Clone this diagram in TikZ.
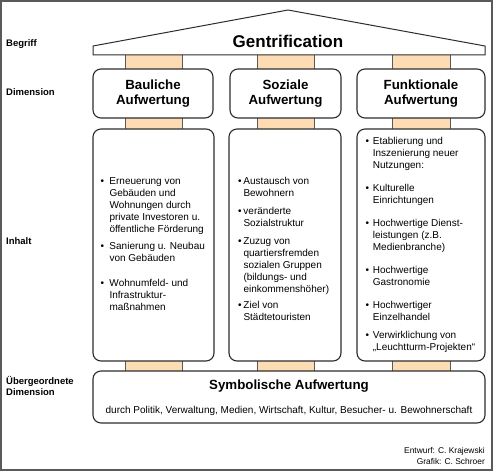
\documentclass[tikz,border=0pt]{standalone}
\usepackage{fontspec}
\setmainfont{Liberation Sans}
\definecolor{pillarfill}{RGB}{253,220,180}
\definecolor{boxline}{RGB}{45,45,45}
\definecolor{frameline}{RGB}{90,90,90}
\newcommand{\bu}[1]{\makebox[#1][l]{\textbullet}}
\newcommand{\lines}[1]{\begin{tabular}[t]{@{}l@{}}#1\end{tabular}}
\begin{document}
\begin{tikzpicture}[x=1pt,y=-1pt,
  box/.style={draw=boxline, line width=1.1pt, fill=white, rounded corners=8pt, inner sep=0pt},
  dimbox/.style={box, align=center, font=\bfseries\fontsize{13.3}{15}\selectfont},
  pillar/.style={draw=frameline, line width=0.9pt, fill=pillarfill, inner sep=0pt},
  bultxt/.style={anchor=base west, inner sep=0pt, font=\fontsize{10}{12}\selectfont},
  lbl/.style={anchor=base west, inner sep=0pt, font=\bfseries\fontsize{9.5}{11}\selectfont},
  credit/.style={anchor=base east, inner sep=0pt, font=\fontsize{8.4}{10.5}\selectfont}]
\useasboundingbox (0,0) rectangle (495,473);
\draw[frameline, line width=1.5pt] (1,1) rectangle (492,470);

% pillars
\foreach \x/\w/\n in {153.5/57/1, 285.5/57/2, 421/58/3}{
  \node[pillar, minimum width=\w pt, minimum height=18pt] (pa\n) at (\x,62) {};
  \node[pillar, minimum width=\w pt, minimum height=15pt] (pb\n) at (\x,123.5) {};
  \node[pillar, minimum width=\w pt, minimum height=14pt] (pc\n) at (\x,366) {};
}

% roof
\draw[boxline, line width=1pt, fill=white] (93,55) -- (93,46) -- (288,10) -- (485,46) -- (485,55) -- cycle;
\node[anchor=base, inner sep=0pt, font=\bfseries\fontsize{17}{20}\selectfont] (gent) at (288,47.7) {Gentrification};

% dimension boxes
\node[dimbox, minimum width=120pt, minimum height=49pt] (d1) at (153,93.5) {Bauliche\\Aufwertung};
\node[dimbox, minimum width=111pt, minimum height=49pt] (d2) at (285.5,93.5) {Soziale\\Aufwertung};
\node[dimbox, minimum width=128pt, minimum height=49pt] (d3) at (421,93.5) {Funktionale\\Aufwertung};

% content boxes
\node[box, minimum width=121pt, minimum height=232pt] (c1) at (153.5,245) {};
\node[box, minimum width=112pt, minimum height=232pt] (c2) at (285,245) {};
\node[box, minimum width=128pt, minimum height=232pt] (c3) at (421,245) {};

% symbolic box
\node[box, minimum width=392pt, minimum height=52pt] (s) at (289,397) {};
\node[anchor=base, inner sep=0pt, font=\bfseries\fontsize{13.3}{15}\selectfont] (stitle) at (289,389.5) {Symbolische Aufwertung};
\node[anchor=base, inner sep=0pt, font=\fontsize{10}{12}\selectfont] (ssub) at (289,413) {durch Politik, Verwaltung, Medien, Wirtschaft, Kultur, Besucher- u. Bewohnerschaft};

% content texts box 1
\node[bultxt] (t1a) at (100.5,184.3) {\bu{8.8pt}\lines{Erneuerung von\\Gebäuden und\\Wohnungen durch\\private Investoren u.\\öffentliche Förderung}};
\node[bultxt] (t1b) at (100.5,249.3) {\bu{8.8pt}\lines{Sanierung u. Neubau\\von Gebäuden}};
\node[bultxt] (t1c) at (100.5,286.3) {\bu{8.8pt}\lines{Wohnumfeld- und\\Infrastruktur-\\maßnahmen}};

% content texts box 2
\node[bultxt] (t2a) at (237.8,184.3) {\bu{5.5pt}\lines{Austausch von\\Bewohnern}};
\node[bultxt] (t2b) at (237.8,214.3) {\bu{5.5pt}\lines{veränderte\\Sozialstruktur}};
\node[bultxt] (t2c) at (237.8,244.3) {\bu{5.5pt}\lines{Zuzug von\\quartiersfremden\\sozialen Gruppen\\(bildungs- und\\einkommenshöher)}};
\node[bultxt] (t2d) at (237.8,308.3) {\bu{5.5pt}\lines{Ziel von\\Städtetouristen}};

% content texts box 3
\node[bultxt] (t3a) at (365.5,145) {\bu{7.2pt}\lines{Etablierung und\\Inszenierung neuer\\Nutzungen:}};
\node[bultxt] (t3b) at (365.5,191.5) {\bu{7.2pt}\lines{Kulturelle\\Einrichtungen}};
\node[bultxt] (t3c) at (365.5,226.5) {\bu{7.2pt}\lines{Hochwertige Dienst-\\leistungen (z.B.\\Medienbranche)}};
\node[bultxt] (t3d) at (365.5,273.3) {\bu{7.2pt}\lines{Hochwertige\\Gastronomie}};
\node[bultxt] (t3e) at (365.5,308.3) {\bu{7.2pt}\lines{Hochwertiger\\Einzelhandel}};
\node[bultxt] (t3f) at (365.5,338.3) {\bu{7.2pt}\lines{Verwirklichung von\\„Leuchtturm-Projekten“}};

% left labels
\node[lbl] (lb1) at (6,46.7) {Begriff};
\node[lbl] (lb2) at (6,96) {Dimension};
\node[lbl] (lb3) at (6,244) {Inhalt};
\node[lbl] (lb4) at (6,384) {\begin{tabular}[t]{@{}l@{}}Übergeordnete\\Dimension\end{tabular}};

% credits
\node[credit] (cr) at (485,453.5) {\begin{tabular}[t]{@{}r@{}}Entwurf: C. Krajewski\\Grafik: C. Schroer\end{tabular}};
\end{tikzpicture}
\end{document}
